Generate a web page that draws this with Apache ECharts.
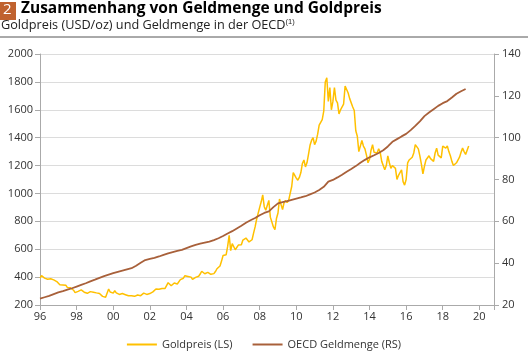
<!DOCTYPE html>
<html>
<head>
<meta charset="utf-8">
<script src="https://cdn.jsdelivr.net/npm/echarts@6/dist/echarts.min.js"></script>
<style>
html,body{margin:0;padding:0;background:#fff;}
#chart{width:528px;height:356px;}
</style>
</head>
<body>
<div id="chart"></div>
<script>
// Gold price (USD/oz), monthly, Jan 1996 .. Jun 2019
var goldStartYear = 1996;
var gold = [
  392, 410, 398, 393, 391, 385, 383, 388, 383, 380, 378, 368,   // 1996
  355, 345, 352, 344, 344, 341, 325, 324, 323, 325, 306, 289,   // 1997
  290, 298, 296, 308, 299, 292, 293, 284, 290, 296, 294, 292,   // 1998
  287, 287, 286, 283, 276, 262, 256, 256, 265, 315, 293, 283,   // 1999
  285, 302, 287, 280, 276, 286, 282, 275, 274, 270, 266, 272,   // 2000
  266, 262, 262, 260, 272, 270, 267, 272, 285, 283, 276, 276,   // 2001
  282, 296, 294, 303, 315, 321, 313, 310, 319, 317, 319, 333,   // 2002
  360, 358, 338, 328, 358, 356, 351, 362, 382, 379, 392, 410,   // 2003
  414, 405, 410, 400, 384, 392, 398, 400, 406, 422, 442, 440,   // 2004
  424, 424, 434, 429, 420, 432, 425, 440, 460, 470, 480, 515,   // 2005
  555, 556, 560, 620, 700, 590, 640, 630, 596, 586, 630, 630,   // 2006
  632, 666, 655, 680, 667, 652, 666, 668, 715, 760, 815, 805,   // 2007
  900, 940, 990, 905, 880, 890, 950, 830, 840, 760, 740, 820,   // 2008
  860, 960, 920, 885, 935, 950, 935, 950, 1000, 1050, 1150, 1130, // 2009
  1110, 1095, 1115, 1150, 1215, 1240, 1190, 1220, 1280, 1345, 1380, 1400, // 2010
  1350, 1375, 1425, 1490, 1510, 1530, 1590, 1800, 1830, 1660, 1760, 1600, // 2011
  1660, 1760, 1670, 1650, 1570, 1600, 1590, 1640, 1770, 1760, 1720, 1680, // 2012
  1670, 1620, 1595, 1450, 1410, 1300, 1290, 1380, 1340, 1320, 1275, 1220, // 2013
  1245, 1310, 1350, 1295, 1290, 1290, 1320, 1295, 1230, 1220, 1170, 1200, // 2014
  1270, 1220, 1180, 1200, 1200, 1180, 1100, 1130, 1125, 1170, 1085, 1060, // 2015
  1100, 1220, 1240, 1250, 1260, 1290, 1350, 1345, 1320, 1270, 1210, 1140, // 2016
  1195, 1240, 1230, 1270, 1250, 1260, 1230, 1290, 1325, 1275, 1285, 1255, // 2017
  1340, 1330, 1325, 1340, 1300, 1270, 1230, 1200, 1195, 1220, 1225, 1260, // 2018
  1295, 1325, 1300, 1280, 1285, 1340                                       // 2019
];

// OECD money supply (index), quarterly, 1996 Q1 .. 2019 Q2
var moneyStartYear = 1996;
var money = [
  23.0, 23.7, 24.4, 25.2,   // 1996
  26.0, 26.6, 27.3, 28.0,   // 1997
  28.8, 29.6, 30.4, 31.3,   // 1998
  32.1, 33.0, 33.8, 34.5,   // 1999
  35.2, 35.8, 36.4, 37.0,   // 2000
  37.6, 38.8, 40.2, 41.5,   // 2001
  42.0, 42.5, 43.2, 44.0,   // 2002
  44.7, 45.3, 45.9, 46.4,   // 2003
  47.2, 48.0, 48.7, 49.3,   // 2004
  49.8, 50.3, 51.0, 51.9,   // 2005
  53.0, 54.2, 55.3, 56.6,   // 2006
  57.9, 59.3, 60.5, 61.6,   // 2007
  62.9, 64.0, 64.8, 66.8,   // 2008
  68.6, 69.2, 69.7, 70.3,   // 2009
  70.9, 71.4, 72.0, 72.9,   // 2010
  73.8, 75.0, 76.5, 79.0,   // 2011
  79.8, 81.0, 82.3, 83.7,   // 2012
  85.0, 86.4, 88.0, 89.4,   // 2013
  90.6, 91.6, 92.7, 94.0,   // 2014
  95.8, 98.0, 99.3, 100.6,  // 2015
  101.8, 103.6, 105.6, 107.8, // 2016
  110.3, 112.0, 113.6, 115.2, // 2017
  116.5, 117.5, 119.2, 121.0, // 2018
  122.2, 123.3               // 2019
];

var xTicks = ['96','98','00','02','04','06','08','10','12','14','16','18','20'];
var leftTicks = [200, 400, 600, 800, 1000, 1200, 1400, 1600, 1800, 2000];
var rightTicks = [20, 40, 60, 80, 100, 120, 140];

var goldData = gold.map(function (v, i) { return [goldStartYear + i / 12, v]; });
var moneyData = money.map(function (v, i) { return [moneyStartYear + i / 4, v]; });

var FONT = '"Open Sans", "Noto Sans", sans-serif';
var chart = echarts.init(document.getElementById('chart'), null, {renderer: 'canvas'});
chart.setOption({
  animation: false,
  backgroundColor: '#fff',
  textStyle: {fontFamily: FONT},
  grid: {left: 40, right: 34, top: 54, bottom: 51},
  graphic: [
    {type: 'rect', left: 0, top: 2, shape: {width: 16, height: 18}, style: {fill: '#c0622f'}},
    {type: 'text', left: 3, top: 2, style: {text: '2', fill: '#fff', font: '15px ' + FONT}},
    {type: 'text', left: 21, top: 1, style: {text: 'Zusammenhang von Geldmenge und Goldpreis', fill: '#000', font: 'bold 15.5px ' + FONT}},
    {type: 'text', left: 1, top: 18, style: {
      text: 'Goldpreis (USD/oz) und Geldmenge in der OECD{sup|(1)}',
      fill: '#222', font: '12.7px ' + FONT,
      rich: {sup: {fontSize: 7.5, verticalAlign: 'top', padding: [0, 0, 6, 0], fill: '#222'}}
    }},
    {type: 'line', shape: {x1: 0, y1: 37, x2: 528, y2: 37}, style: {stroke: '#555', lineWidth: 1}}
  ],
  legend: {
    bottom: 1, left: 'center',
    itemWidth: 30, itemHeight: 2, itemGap: 20,
    icon: 'rect',
    textStyle: {fontSize: 11, color: '#333', fontFamily: FONT},
    data: ['Goldpreis (LS)', 'OECD Geldmenge (RS)']
  },
  xAxis: {
    type: 'value', min: 1996, max: 2020.8, interval: 2,
    axisLine: {show: true, lineStyle: {color: '#aaa'}},
    axisTick: {show: true, length: 5, lineStyle: {color: '#aaa'}},
    splitLine: {show: false},
    axisLabel: {
      color: '#333', fontSize: 11, margin: 6,
      formatter: function (v) {
        var idx = Math.round((v - 1996) / 2);
        return (Math.abs(v - 1996 - idx * 2) < 1e-6 && xTicks[idx] !== undefined) ? xTicks[idx] : '';
      }
    }
  },
  yAxis: [
    {
      type: 'value', min: leftTicks[0], max: leftTicks[leftTicks.length - 1], interval: 200, position: 'left',
      axisLine: {show: true, lineStyle: {color: '#aaa'}},
      axisTick: {show: true, length: 5, lineStyle: {color: '#aaa'}},
      splitLine: {show: true, lineStyle: {color: '#dcdcdc'}},
      axisLabel: {color: '#333', fontSize: 11, margin: 7, formatter: function (v) { return String(v); }}
    },
    {
      type: 'value', min: rightTicks[0], max: rightTicks[rightTicks.length - 1], interval: 20, position: 'right',
      axisLine: {show: true, lineStyle: {color: '#aaa'}},
      axisTick: {show: true, length: 5, lineStyle: {color: '#aaa'}},
      splitLine: {show: false},
      axisLabel: {color: '#333', fontSize: 11, margin: 8, formatter: function (v) { return String(v); }}
    }
  ],
  series: [
    {
      name: 'Goldpreis (LS)', type: 'line', yAxisIndex: 0, data: goldData,
      showSymbol: false, symbol: 'none',
      lineStyle: {color: '#ffc000', width: 1.5}, itemStyle: {color: '#ffc000'}, z: 3
    },
    {
      name: 'OECD Geldmenge (RS)', type: 'line', yAxisIndex: 1, data: moneyData,
      showSymbol: false, symbol: 'none',
      lineStyle: {color: '#a8603a', width: 1.8}, itemStyle: {color: '#a8603a'}, z: 4
    }
  ]
});
</script>
</body>
</html>
